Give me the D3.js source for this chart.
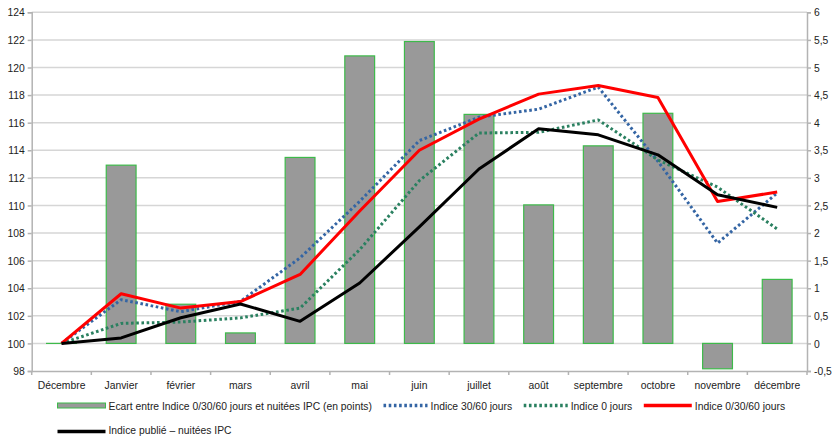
<!DOCTYPE html>
<html>
<head>
<meta charset="utf-8">
<script src="https://cdn.jsdelivr.net/npm/d3@7"></script>
<style>
  html, body { margin: 0; padding: 0; background: #ffffff; }
  svg { display: block; }
  text { font-family: "Liberation Sans", Arial, sans-serif; font-size: 11.5px; fill: #222; }
</style>
</head>
<body>
<svg id="chart" width="833" height="436"></svg>
<script>
// Months on the category axis
const months = ["Décembre", "Janvier", "février", "mars", "avril", "mai", "juin",
                "juillet", "août", "septembre", "octobre", "novembre", "décembre"];

// Gap between the 0/30/60 index and IPC nights (points, right axis)
const ecart = [0, 3.23, 0.71, 0.19, 3.37, 5.21, 5.47, 4.15, 2.51, 3.58, 4.17, -0.46, 1.16];

// Index series (left axis, base 100)
const indice3060   = [100, 103.17, 102.3, 103.05, 106.2, 110.3, 114.7, 116.4, 116.98, 118.58, 113.2, 107.27, 110.9];
const indice0      = [100, 101.45, 101.55, 101.85, 102.56, 106.8, 111.8, 115.25, 115.3, 116.2, 113.3, 111.33, 108.29];
const indice03060  = [100, 103.6, 102.56, 103.03, 105.0, 109.6, 114.0, 116.26, 118.07, 118.7, 117.83, 110.29, 110.97];
const indicePublie = [100, 100.4, 101.86, 102.86, 101.6, 104.38, 108.45, 112.64, 115.56, 115.12, 113.67, 110.78, 109.86];

// Axis ticks
const leftTicks  = [98, 100, 102, 104, 106, 108, 110, 112, 114, 116, 118, 120, 122, 124];
const rightTicks = [-0.5, 0, 0.5, 1, 1.5, 2, 2.5, 3, 3.5, 4, 4.5, 5, 5.5, 6];

// Legend labels
const legendLabels = [
  "Ecart entre Indice 0/30/60 jours et nuitées IPC (en points)",
  "Indice 30/60 jours",
  "Indice 0 jours",
  "Indice 0/30/60 jours",
  "Indice publié – nuitées IPC"
];

const svg = d3.select("#chart");
const plot = { left: 31.7, right: 807, top: 12.3, bottom: 371 };

// Horizontal squeeze giving the labels a narrow typeface look
const SQ = 0.9;
function condense(sel) {
  sel.each(function () {
    const t = d3.select(this);
    const x0 = +t.attr("x") || 0;
    t.attr("x", x0 / SQ).attr("transform", `scale(${SQ},1)`);
  });
}

const x = d3.scaleBand().domain(months).range([plot.left, plot.right]).padding(0);
const yL = d3.scaleLinear().domain([98, 124]).range([plot.bottom, plot.top]);
const yR = d3.scaleLinear().domain([-0.5, 6]).range([plot.bottom, plot.top]);

const gridColor = "#d6d6d6";
const axisColor = "#b3b3b3";
const fmt = d => String(d).replace(".", ",");

// Horizontal gridlines
svg.append("g")
  .selectAll("line")
  .data(leftTicks.filter(d => d !== 98))
  .join("line")
  .attr("x1", plot.left).attr("x2", plot.right)
  .attr("y1", d => yL(d)).attr("y2", d => yL(d))
  .attr("stroke", gridColor).attr("stroke-width", 1.5);

// Left axis
const gL = svg.append("g").attr("transform", `translate(${plot.left},0)`)
  .call(d3.axisLeft(yL).tickValues(leftTicks).tickSize(4).tickPadding(3).tickFormat(d => d));
// Right axis
const gR = svg.append("g").attr("transform", `translate(${plot.right},0)`)
  .call(d3.axisRight(yR).tickValues(rightTicks).tickSize(4).tickPadding(3).tickFormat(fmt));
// Bottom axis with ticks between categories
const gB = svg.append("g").attr("transform", `translate(0,${plot.bottom})`)
  .call(d3.axisBottom(x).tickSize(0).tickPadding(10));
gB.selectAll(".tick text").attr("dy", "0.71em");
svg.append("g")
  .selectAll("line")
  .data(d3.range(months.length + 1))
  .join("line")
  .attr("x1", i => plot.left + i * x.step()).attr("x2", i => plot.left + i * x.step())
  .attr("y1", plot.bottom).attr("y2", plot.bottom + 4)
  .attr("stroke", axisColor).attr("stroke-width", 1.5);

[gL, gR, gB].forEach(g => {
  g.select(".domain").attr("stroke", axisColor).attr("stroke-width", 1.5);
  g.selectAll(".tick line").attr("stroke", axisColor).attr("stroke-width", 1.5);
  g.selectAll(".tick text").attr("fill", "#222")
    .style("font-family", '"Liberation Sans", Arial, sans-serif')
    .style("font-size", "11.5px")
    .call(condense);
});

// Bars (right axis)
const barW = x.bandwidth() * 0.5;
svg.append("g")
  .selectAll("rect")
  .data(ecart.map((v, i) => ({ m: months[i], v })))
  .join("rect")
  .attr("x", d => x(d.m) + (x.bandwidth() - barW) / 2)
  .attr("width", barW)
  .attr("y", d => yR(Math.max(0, d.v)))
  .attr("height", d => Math.max(0.01, Math.abs(yR(d.v) - yR(0))))
  .attr("fill", "#999999")
  .attr("stroke", "#3dba4a").attr("stroke-width", 1.2);

// Lines (left axis)
const line = d3.line()
  .x((d, i) => x(months[i]) + x.bandwidth() / 2)
  .y(d => yL(d));

const series = [
  { data: indice3060,   color: "#3465a4", dash: "2.6,2.6", width: 3 },
  { data: indice0,      color: "#2a8060", dash: "2.6,2.6", width: 3 },
  { data: indice03060,  color: "#ff0000", dash: null,      width: 3 },
  { data: indicePublie, color: "#000000", dash: null,      width: 3 }
];

series.forEach(s => {
  svg.append("path")
    .datum(s.data)
    .attr("d", line)
    .attr("fill", "none")
    .attr("stroke", s.color)
    .attr("stroke-width", s.width)
    .attr("stroke-dasharray", s.dash)
    .attr("stroke-linejoin", "round");
});

// Legend
const legend = svg.append("g");
function swatch(g, kind, x0, yc) {
  if (kind.type === "bar") {
    g.append("rect").attr("x", x0).attr("y", yc - 2.5).attr("width", 48).attr("height", 5)
      .attr("fill", "#999999").attr("stroke", "#3dba4a").attr("stroke-width", 1);
  } else {
    g.append("line").attr("x1", x0).attr("x2", x0 + (kind.dash ? 44 : 48))
      .attr("y1", yc).attr("y2", yc)
      .attr("stroke", kind.color).attr("stroke-width", 3.5)
      .attr("stroke-dasharray", kind.dash);
  }
}
const kinds = [
  { type: "bar" },
  { type: "line", color: "#3465a4", dash: "2.6,2.6" },
  { type: "line", color: "#2a8060", dash: "2.6,2.6" },
  { type: "line", color: "#ff0000", dash: null },
  { type: "line", color: "#000000", dash: null }
];
let cx = 57.5;
const row1Y = 405.5, row2Y = 431.5;
for (let i = 0; i < 4; i++) {
  swatch(legend, kinds[i], cx, row1Y);
  const sw = kinds[i].dash ? 44 : 48;
  const t = legend.append("text").attr("x", cx + sw + 3).attr("y", row1Y).attr("dy", "0.35em")
    .text(legendLabels[i]);
  const w = t.node().getComputedTextLength() * SQ;
  condense(t);
  cx = cx + sw + 3 + w + 11.5;
}
swatch(legend, kinds[4], 57.5, row2Y);
legend.append("text").attr("x", 57.5 + 51).attr("y", row2Y - 2).attr("dy", "0.35em")
  .text(legendLabels[4]).call(condense);
</script>
</body>
</html>
